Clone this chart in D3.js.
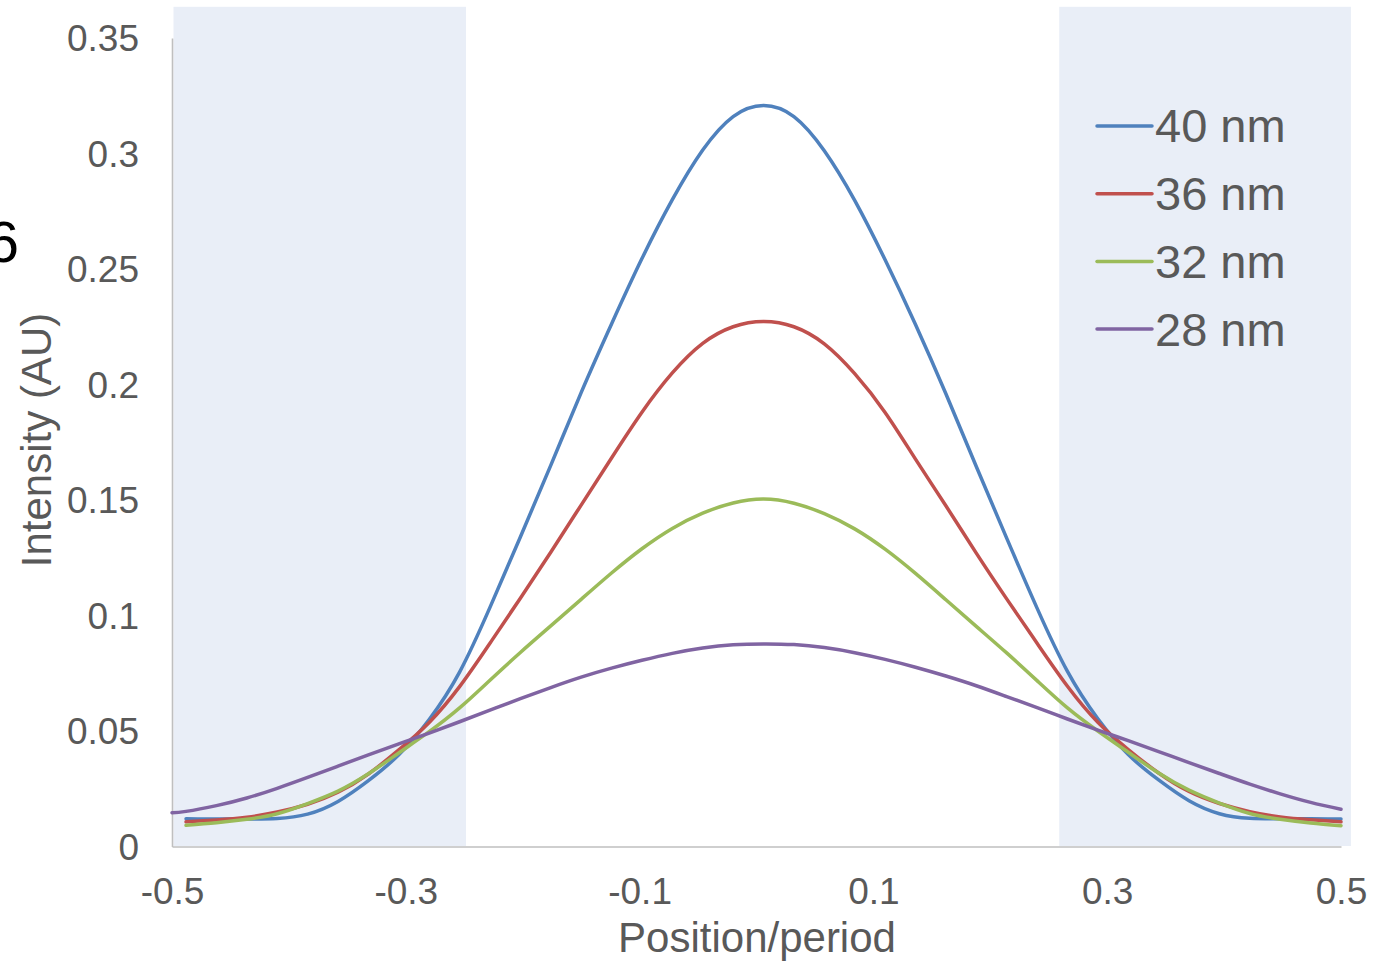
<!DOCTYPE html>
<html>
<head>
<meta charset="utf-8">
<script src="https://cdn.jsdelivr.net/npm/d3@7"></script>
<style>
  html, body { margin: 0; padding: 0; background: #ffffff; }
  svg { display: block; font-family: "Liberation Sans", Arial, sans-serif; }
</style>
</head>
<body>
<svg id="chart" width="1380" height="961"></svg>
<script>
// Position across one period (shared by the 40, 36 and 32 nm profiles)
const positions = [
  -0.488, -0.462, -0.436, -0.410, -0.384, -0.358, -0.332, -0.306, -0.280, -0.254,
  -0.228, -0.202, -0.176, -0.150, -0.124, -0.098, -0.072, -0.046, -0.020, 0.006,
   0.032,  0.058,  0.084,  0.110,  0.136,  0.162,  0.188,  0.214,  0.240, 0.266,
   0.292,  0.318,  0.344,  0.370,  0.396,  0.422,  0.448,  0.474,  0.500
];
// The 28 nm profile starts at the period edge
const positions28 = [-0.5].concat(positions);

const intensity40 = [
  0.0120, 0.0119, 0.0119, 0.0121, 0.0140, 0.0195, 0.0285, 0.0397, 0.0550, 0.0755,
  0.1035, 0.1340, 0.1650, 0.1965, 0.2262, 0.2545, 0.2800, 0.3015, 0.3160, 0.3208,
  0.3160, 0.3012, 0.2797, 0.2540, 0.2260, 0.1960, 0.1645, 0.1335, 0.1032, 0.0758,
  0.0553, 0.0398, 0.0288, 0.0198, 0.0142, 0.0122, 0.0120, 0.0120, 0.0119
];
const intensity36 = [
  0.0107, 0.0115, 0.0127, 0.0149, 0.0183, 0.0235, 0.0314, 0.0418, 0.0537, 0.0692,
  0.0880, 0.1075, 0.1274, 0.1478, 0.1682, 0.1880, 0.2050, 0.2178, 0.2250, 0.2273,
  0.2250, 0.2176, 0.2047, 0.1879, 0.1677, 0.1475, 0.1270, 0.1072, 0.0880, 0.0694,
  0.0538, 0.0420, 0.0318, 0.0238, 0.0186, 0.0151, 0.0128, 0.0116, 0.0107
];
const intensity32 = [
  0.0092, 0.0103, 0.0118, 0.0142, 0.0186, 0.0240, 0.0315, 0.0405, 0.0497, 0.0600,
  0.0720, 0.0840, 0.0955, 0.1070, 0.1184, 0.1289, 0.1377, 0.1443, 0.1487, 0.1504,
  0.1486, 0.1441, 0.1375, 0.1287, 0.1182, 0.1068, 0.0953, 0.0838, 0.0718, 0.0600,
  0.0500, 0.0408, 0.0318, 0.0244, 0.0188, 0.0143, 0.0118, 0.0102, 0.0090
];
const intensity28 = [
  0.0146,
  0.0152, 0.0177, 0.0210, 0.0252, 0.0299, 0.0348, 0.0397, 0.0444, 0.0491, 0.0540,
  0.0590, 0.0640, 0.0688, 0.0733, 0.0772, 0.0806, 0.0836, 0.0859, 0.0873, 0.0877,
  0.0874, 0.0861, 0.0839, 0.0810, 0.0776, 0.0738, 0.0696, 0.0649, 0.0601, 0.0552,
  0.0504, 0.0458, 0.0411, 0.0363, 0.0316, 0.0270, 0.0228, 0.0191, 0.0161
];

const seriesNames = ["40 nm", "36 nm", "32 nm", "28 nm"];
const seriesColors = ["#4F81BD", "#C0504D", "#9BBB59", "#8064A2"];

// Shaded zones along the period, and the height they reach
const shadedBands = [[-0.5, -0.2485], [0.2577, 0.5085]];
const shadedTop = 0.3635;

const xTicks = [-0.5, -0.3, -0.1, 0.1, 0.3, 0.5];
const yTicks = [0, 0.05, 0.1, 0.15, 0.2, 0.25, 0.3, 0.35];

const series = [
  { name: seriesNames[0], color: seriesColors[0], xs: positions,   ys: intensity40 },
  { name: seriesNames[1], color: seriesColors[1], xs: positions,   ys: intensity36 },
  { name: seriesNames[2], color: seriesColors[2], xs: positions,   ys: intensity32 },
  { name: seriesNames[3], color: seriesColors[3], xs: positions28, ys: intensity28 }
];

const svg = d3.select("#chart");
const x = d3.scaleLinear().domain([-0.5, 0.5]).range([172, 1341]);
const y = d3.scaleLinear().domain([0, 0.35]).range([846.5, 38]);

const textColor = "#595959";

// shaded zones
svg.append("g").selectAll("rect")
  .data(shadedBands)
  .join("rect")
  .attr("x", d => x(d[0]) + 1.5)
  .attr("width", d => x(d[1]) - x(d[0]) - 1.5)
  .attr("y", y(shadedTop))
  .attr("height", y(0) - y(shadedTop) - 0.5)
  .attr("fill", "#E9EEF7");

// axes
const yAxis = d3.axisLeft(y)
  .tickValues(yTicks)
  .tickSize(0)
  .tickSizeOuter(0)
  .tickPadding(33)
  .tickFormat(d => d === 0 ? "0" : String(+d.toFixed(2)));
const xAxis = d3.axisBottom(x)
  .tickValues(xTicks)
  .tickSize(0)
  .tickSizeOuter(0)
  .tickPadding(31)
  .tickFormat(d => String(+d.toFixed(1)));

const gy = svg.append("g").attr("transform", `translate(${x(-0.5)},0)`).call(yAxis);
const gx = svg.append("g").attr("transform", `translate(0,${y(0)})`).call(xAxis);

[gx, gy].forEach(g => {
  g.select(".domain").attr("stroke", "#BFBFBF").attr("stroke-width", 1.6);
  g.selectAll(".tick text")
    .attr("fill", textColor)
    .style("font-size", "37px")
    .style("font-family", "\"Liberation Sans\", Arial, sans-serif");
});
gy.selectAll(".tick text").attr("dy", "0.35em");

// axis titles
svg.append("text")
  .attr("x", 757)
  .attr("y", 952)
  .attr("text-anchor", "middle")
  .attr("fill", textColor)
  .style("font-size", "42px")
  .text("Position/period");

svg.append("text")
  .attr("transform", "translate(51,440) rotate(-90)")
  .attr("text-anchor", "middle")
  .attr("fill", textColor)
  .style("font-size", "42px")
  .text("Intensity (AU)");

// panel label at the left edge
svg.append("text")
  .attr("x", 19)
  .attr("y", 262)
  .attr("text-anchor", "end")
  .attr("fill", "#000000")
  .style("font-size", "58px")
  .text("6");

// profiles, drawn as natural cubic splines through the sampled points
const line = d3.line()
  .x(d => x(d[0]))
  .y(d => y(d[1]))
  .curve(d3.curveNatural);

svg.append("g").selectAll("path")
  .data(series)
  .join("path")
  .attr("d", s => line(s.xs.map((v, i) => [v, s.ys[i]])))
  .attr("fill", "none")
  .attr("stroke", s => s.color)
  .attr("stroke-width", 3.5)
  .attr("stroke-linejoin", "round")
  .attr("stroke-linecap", "round");

// legend
const legend = svg.append("g").selectAll("g")
  .data(series)
  .join("g")
  .attr("transform", (s, i) => `translate(1097,${126 + i * 67.7})`);

legend.append("line")
  .attr("x1", 0).attr("x2", 55)
  .attr("y1", 0).attr("y2", 0)
  .attr("stroke", s => s.color)
  .attr("stroke-width", 3.5)
  .attr("stroke-linecap", "round");

legend.append("text")
  .attr("x", 58)
  .attr("y", 0)
  .attr("dy", "0.35em")
  .attr("fill", textColor)
  .style("font-size", "47px")
  .text(s => s.name);
</script>
</body>
</html>
